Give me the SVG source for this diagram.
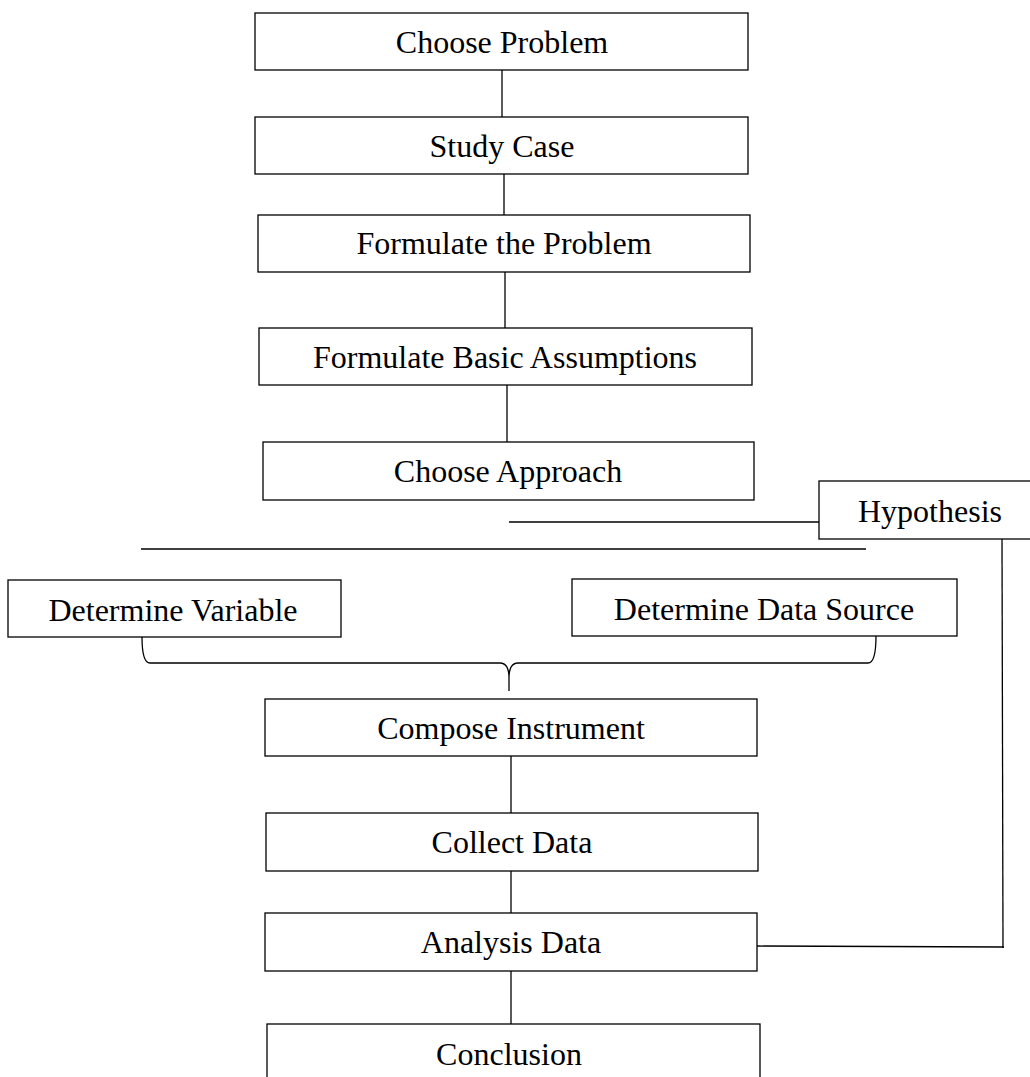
<svg xmlns="http://www.w3.org/2000/svg" width="1030" height="1077" viewBox="0 0 1030 1077">
<style>
.box{fill:#fff;stroke:#000;stroke-width:1.3}
.lbl{font-family:"Liberation Serif","Times New Roman",serif;font-size:32px;fill:#000;text-anchor:middle}
.con{fill:none;stroke:#000;stroke-width:1.3}
</style>
<rect width="1030" height="1077" fill="#fff"/>
<g id="connectors">
<line class="con" x1="502" y1="70" x2="502" y2="117"/>
<line class="con" x1="504" y1="174" x2="504" y2="215"/>
<line class="con" x1="505" y1="272" x2="505" y2="328"/>
<line class="con" x1="507" y1="385" x2="507" y2="442"/>
<line class="con" x1="509" y1="522" x2="819" y2="522"/>
<line class="con" x1="141" y1="549" x2="866" y2="549"/>
<path class="con" d="M142,637 Q142,663 150,663 L500,663 Q509,663 509,678 L509,691 M876,636 Q876,663 868,663 L518,663 Q509,663 509,678"/>
<line class="con" x1="511" y1="756" x2="511" y2="813"/>
<line class="con" x1="511" y1="871" x2="511" y2="913"/>
<line class="con" x1="511" y1="971" x2="511" y2="1024"/>
<polyline class="con" points="1002,539 1003,948"/>
<line class="con" x1="757" y1="946" x2="1004" y2="947"/>
</g>
<g id="choose-problem"><rect class="box" x="255" y="13" width="493" height="57"/><text class="lbl" x="502" y="53">Choose Problem</text></g>
<g id="study-case"><rect class="box" x="255" y="117" width="493" height="57"/><text class="lbl" x="502" y="157">Study Case</text></g>
<g id="formulate-problem"><rect class="box" x="258" y="215" width="492" height="57"/><text class="lbl" x="504" y="254">Formulate the Problem</text></g>
<g id="formulate-assumptions"><rect class="box" x="259" y="328" width="493" height="57"/><text class="lbl" x="505" y="368">Formulate Basic Assumptions</text></g>
<g id="choose-approach"><rect class="box" x="263" y="442" width="491" height="58"/><text class="lbl" x="508" y="482">Choose Approach</text></g>
<g id="hypothesis"><rect class="box" x="819" y="481" width="222" height="58"/><text class="lbl" x="930" y="522">Hypothesis</text></g>
<g id="determine-variable"><rect class="box" x="8" y="580" width="333" height="57"/><text class="lbl" x="173" y="621">Determine Variable</text></g>
<g id="determine-data-source"><rect class="box" x="572" y="579" width="385" height="57"/><text class="lbl" x="764" y="620">Determine Data Source</text></g>
<g id="compose-instrument"><rect class="box" x="265" y="699" width="492" height="57"/><text class="lbl" x="511" y="739">Compose Instrument</text></g>
<g id="collect-data"><rect class="box" x="266" y="813" width="492" height="58"/><text class="lbl" x="512" y="853">Collect Data</text></g>
<g id="analysis-data"><rect class="box" x="265" y="913" width="492" height="58"/><text class="lbl" x="511" y="953">Analysis Data</text></g>
<g id="conclusion"><rect class="box" x="267" y="1024" width="493" height="60"/><text class="lbl" x="509" y="1065">Conclusion</text></g>
</svg>
